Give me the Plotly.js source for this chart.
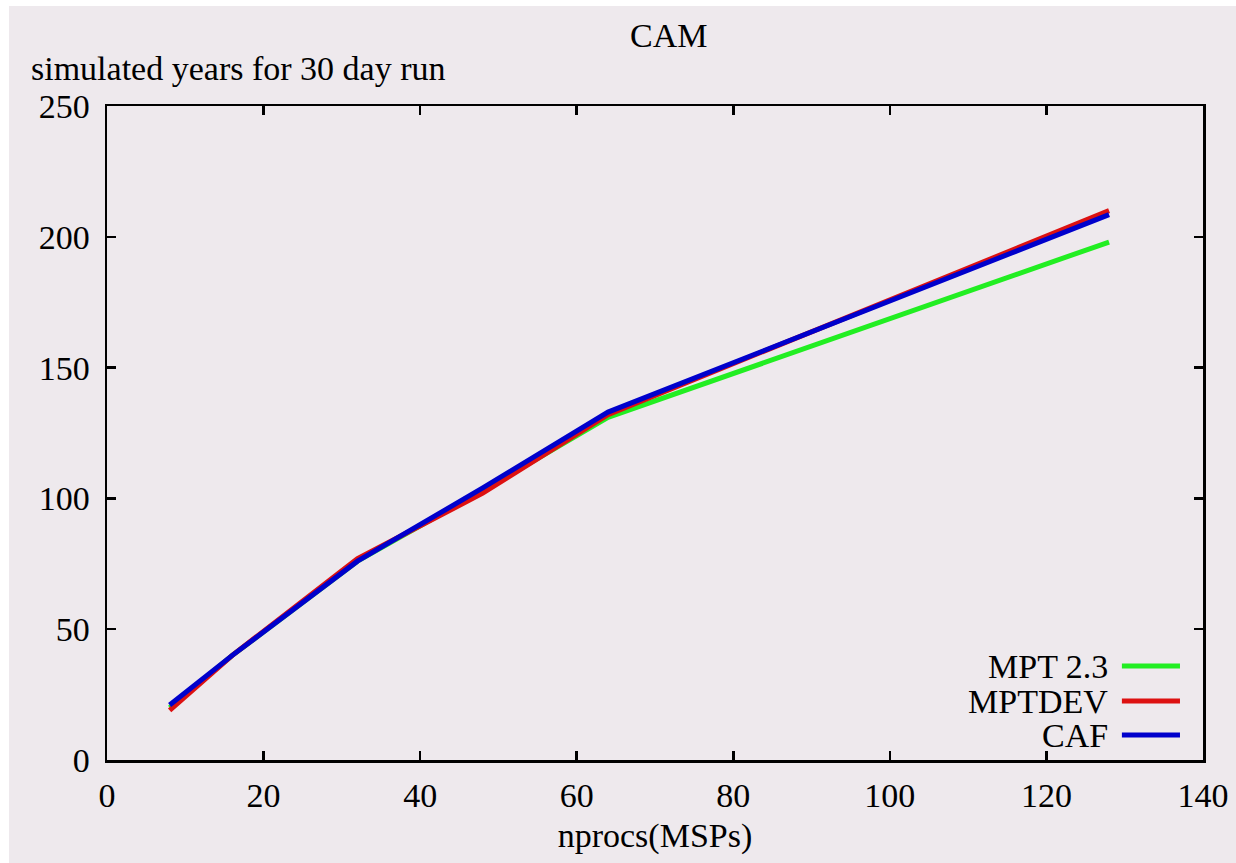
<!DOCTYPE html>
<html>
<head>
<meta charset="utf-8">
<script src="https://cdn.plot.ly/plotly-3.0.1.min.js"></script>
<style>
html,body{margin:0;padding:0;background:#ffffff;}
#chart{position:absolute;left:9px;top:6px;width:1227px;height:857px;}
</style>
</head>
<body>
<div id="chart"></div>
<script>
// Data
const nprocs = [8, 16, 32, 48, 64, 128];
const mpt23  = [20, 40, 76, 103, 131, 198];
const mptdev = [19, 40, 77, 102, 132, 210];
const caf    = [21, 40, 76, 104, 133, 208.5];
const seriesNames = ["MPT 2.3", "MPTDEV", "CAF"];
const seriesColors = ["#22ee22", "#dd1111", "#0000cc"];
const seriesValues = [mpt23, mptdev, caf];
const xTicks = [0, 20, 40, 60, 80, 100, 120, 140];
const yTicks = [0, 50, 100, 150, 200, 250];

const font = "Liberation Serif, Times New Roman, serif";
const fs = 34;
const bg = "#eee9ed";

const traces = seriesValues.map((v, i) => ({
  x: nprocs, y: v, type: "scatter", mode: "lines", name: seriesNames[i],
  line: {color: seriesColors[i], width: 5}, showlegend: false
}));

// manual legend (text left of sample line, like the original)
const legendY = [0.1437, 0.0902, 0.0382];
const annotations = [
  {text: "CAM", xref: "paper", yref: "paper", x: 0.512, y: 1.108, xanchor: "center", yanchor: "middle",
   showarrow: false, font: {family: font, size: fs, color: "#000"}},
  {text: "simulated years for 30 day run", xref: "paper", yref: "paper", x: -0.070, y: 1.058,
   xanchor: "left", yanchor: "middle", showarrow: false, borderpad: 0,
   font: {family: font, size: fs, color: "#000"}}
];
const shapes = [];
seriesNames.forEach((n, i) => {
  annotations.push({text: n, xref: "paper", yref: "paper", x: 0.915, y: legendY[i], xanchor: "right",
    yanchor: "middle", showarrow: false, font: {family: font, size: fs, color: "#000"}});
  shapes.push({type: "line", xref: "paper", yref: "paper", x0: 0.926, x1: 0.979, y0: legendY[i], y1: legendY[i],
    line: {color: seriesColors[i], width: 5}});
});

const axisCommon = {
  showgrid: false, zeroline: false, showline: true, linecolor: "#000", linewidth: 2.5,
  mirror: "ticks", ticks: "inside", ticklen: 9, tickwidth: 2.5, tickcolor: "#000",
  tickfont: {family: font, size: fs, color: "#000"}, fixedrange: true
};

const layout = {
  width: 1227, height: 857,
  paper_bgcolor: bg, plot_bgcolor: bg,
  margin: {l: 98, r: 33, t: 100, b: 103, pad: 0},
  xaxis: Object.assign({}, axisCommon, {
    range: [0, 140], tickvals: xTicks, ticktext: xTicks.map(String), ticklabelstandoff: 4,
    title: {text: "nprocs(MSPs)", font: {family: font, size: fs, color: "#000"}, standoff: 10}
  }),
  yaxis: Object.assign({}, axisCommon, {
    range: [0, 250], tickvals: yTicks, ticktext: yTicks.map(String), ticklabelstandoff: 8
  }),
  annotations: annotations,
  shapes: shapes,
  showlegend: false
};

Plotly.newPlot("chart", traces, layout, {displayModeBar: false, staticPlot: true});
</script>
</body>
</html>
